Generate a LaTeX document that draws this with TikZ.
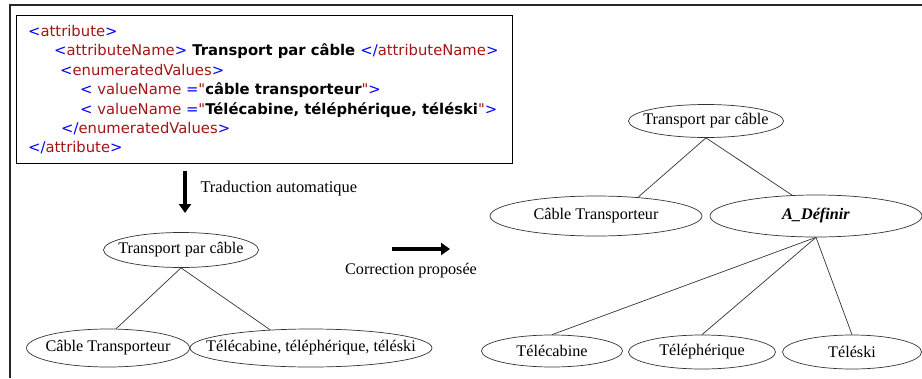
\documentclass[tikz,border=0pt]{standalone}
\usepackage{fontspec}
\setmainfont{Liberation Serif}
\newfontfamily\xmlfont{DejaVu Sans}
\usetikzlibrary{shapes.geometric,arrows.meta}
\definecolor{tagblue}{RGB}{0,0,255}
\definecolor{tagred}{RGB}{163,21,21}
\newcommand{\xopen}[1]{\textcolor{tagblue}{<}\textcolor{tagred}{#1}\textcolor{tagblue}{>}}
\newcommand{\xclose}[1]{\textcolor{tagblue}{</}\textcolor{tagred}{#1}\textcolor{tagblue}{>}}
\newcommand{\xvalue}[1]{\textcolor{tagblue}{<}\ \textcolor{tagred}{valueName}\ \textcolor{tagblue}{=}\textcolor{tagred}{"}\textbf{#1}\textcolor{tagred}{"}\textcolor{tagblue}{>}}
\tikzset{
    xmlline/.style={
        anchor=base west,
        inner sep=0,
        font=\xmlfont\fontsize{14.8}{17}\selectfont
    },
    treenode/.style={
        ellipse,
        draw=black!80,
        line width=0.7pt,
        minimum height=35pt,
        inner xsep=-60pt,
        inner ysep=-8pt,
        font=\fontsize{16.2}{19}\selectfont
    },
    bigarrow/.style={
        line width=4.5pt,
        -{Triangle[length=9pt,width=12pt]}
    },
    branch/.style={
        draw=black!80,
        line width=0.7pt
    }
}
\begin{document}
\begin{tikzpicture}[x=1pt, y=-1pt]
    \useasboundingbox (0,0) rectangle (922,378);
    % cadre
    \draw[line width=1.5pt, black!85] (10,378) -- (10,5) -- (922,5);
    \draw[line width=1pt] (16,15) rectangle (512,163);
    % fichier XML
    \node[xmlline] (l1) at (28,36) {\xopen{attribute}};
    \node[xmlline] (l2) at (54,55) {\xopen{attributeName}\textbf{ Transport par câble }\xclose{attributeName}};
    \node[xmlline] (l3) at (60,75) {\xopen{enumeratedValues}};
    \node[xmlline] (l4) at (80,94) {\xvalue{câble transporteur}};
    \node[xmlline] (l5) at (80,114) {\xvalue{Télécabine, téléphérique, téléski}};
    \node[xmlline] (l6) at (61,133) {\xclose{enumeratedValues}};
    \node[xmlline] (l7) at (28,152) {\xclose{attribute}};
    % traduction
    \coordinate (d1) at (185,171);
    \coordinate (d2) at (185,213);
    \draw[bigarrow] (d1) -- (d2);
    \node[anchor=west, font=\fontsize{16.4}{19}\selectfont] (trad) at (197,189) {Traduction automatique};
    % arbre traduit
    \node[treenode, minimum width=155pt] (lroot) at (181,250) {Transport par câble};
    \node[treenode, minimum width=163pt, minimum height=38pt] (lcable) at (108,348) {Câble Transporteur};
    \node[treenode, minimum width=242pt, minimum height=38pt] (ltele) at (311,348) {Télécabine, téléphérique, téléski};
    \draw[branch] (lroot.south) -- (lcable.67);
    \draw[branch] (lroot.south) -- (ltele.156);
    % correction
    \coordinate (c1) at (392,249);
    \coordinate (c2) at (450,249);
    \draw[bigarrow] (c1) -- (c2);
    \node[font=\fontsize{16.2}{19}\selectfont] (corr) at (411,271) {Correction proposée};
    % arbre corrige
    \node[treenode, minimum width=155pt, minimum height=33pt] (rroot) at (706,121) {Transport par câble};
    \node[treenode, minimum width=212pt, minimum height=40pt] (rcable) at (596,216) {Câble Transporteur};
    \node[treenode, minimum width=212pt, minimum height=42pt] (rdef) at (816,216) {\textbf{\textit{A\_Définir}}};
    \node[treenode, minimum width=141pt, minimum height=32pt] (rcab) at (552,351) {Télécabine};
    \node[treenode, minimum width=147pt, minimum height=34pt] (rpher) at (702,352) {Téléphérique};
    \node[treenode, minimum width=139pt, minimum height=34pt] (rski) at (852,352) {Téléski};
    \draw[branch] (rroot.south) -- (rcable.24);
    \draw[branch] (rroot.south) -- (rdef.139);
    \draw[branch] (rdef.south) -- (rcab.north);
    \draw[branch] (rdef.south) -- (rpher.north);
    \draw[branch] (rdef.south) -- (rski.north);
\end{tikzpicture}
\end{document}
